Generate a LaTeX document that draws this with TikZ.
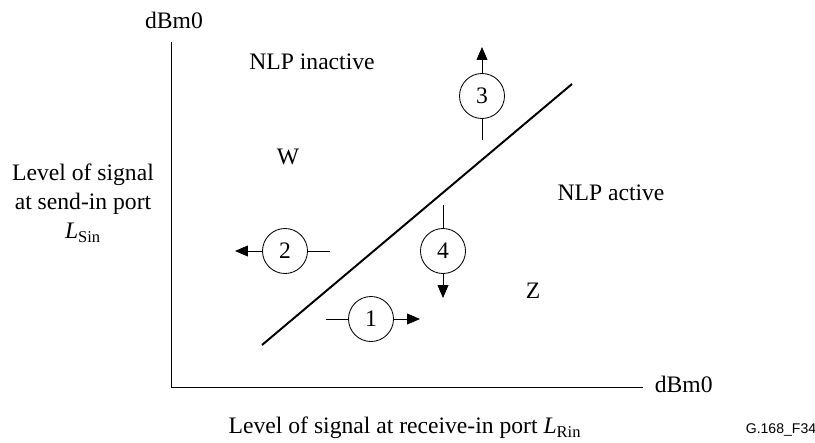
\documentclass[tikz,border=0pt]{standalone}
\usepackage{fontspec}
\setmainfont{Liberation Serif}
\newfontfamily\figsans{Liberation Sans}
\usetikzlibrary{arrows.meta}

\tikzset{
  lbl/.style={anchor=center,inner sep=1pt,font=\fontsize{16.8}{20.6}\selectfont},
  numcirc/.style={draw,circle,line width=.6pt,minimum size=11.25mm,inner sep=0pt,font=\fontsize{16.8}{18}\selectfont},
  flow/.style={line width=.6pt},
  flowtip/.style={line width=.6pt,-{Triangle[length=3.2mm,width=2.7mm]}}
}

\begin{document}
\begin{tikzpicture}[x=.25mm,y=-.25mm,line width=.7pt]
\path[use as bounding box] (0,0) rectangle (815,443);
% axes
\coordinate (orig) at (171,387);
\coordinate (yend) at (171,42);
\coordinate (xend) at (643,387);
\draw (yend) -- (orig) -- (xend);
\node[lbl] (ytop) at (174,20) {dBm0};
\node[lbl,anchor=west] (xright) at (653,384) {dBm0};
\node[lbl,align=center] (ylab) at (83,203) {Level of signal\\at send-in port\\{\itshape L}\textsubscript{Sin}};
\node[lbl] (xlab) at (405,428) {Level of signal at receive-in port {\itshape L}\textsubscript{Rin}};
\node[anchor=center,inner sep=1pt,font=\figsans\fontsize{10}{12}\selectfont] (figno) at (781,430) {G.168\_F34};
% boundary
\draw[line width=1.4pt] (262,345) -- (572,84);
\node[lbl] (inact) at (312,62) {NLP inactive};
\node[lbl] (act) at (611,193) {NLP active};
\node[lbl] (regw) at (288,157) {W};
\node[lbl] (regz) at (533,291) {Z};
% numbered moves
\node[numcirc] (c1) at (371,319) {1};
\node[numcirc] (c2) at (285,251) {2};
\node[numcirc] (c3) at (482,96) {3};
\node[numcirc] (c4) at (443,251) {4};
\coordinate (s1) at (326,319);
\coordinate (e1) at (420,319);
\coordinate (s2) at (330,251);
\coordinate (e2) at (235,251);
\coordinate (s3) at (482,140);
\coordinate (e3) at (482,47);
\coordinate (s4) at (443,205);
\coordinate (e4) at (443,298);
\draw[flow] (s1) -- (c1);
\draw[flowtip] (c1) -- (e1);
\draw[flow] (s2) -- (c2);
\draw[flowtip] (c2) -- (e2);
\draw[flow] (s3) -- (c3);
\draw[flowtip] (c3) -- (e3);
\draw[flow] (s4) -- (c4);
\draw[flowtip] (c4) -- (e4);
\end{tikzpicture}
\end{document}
